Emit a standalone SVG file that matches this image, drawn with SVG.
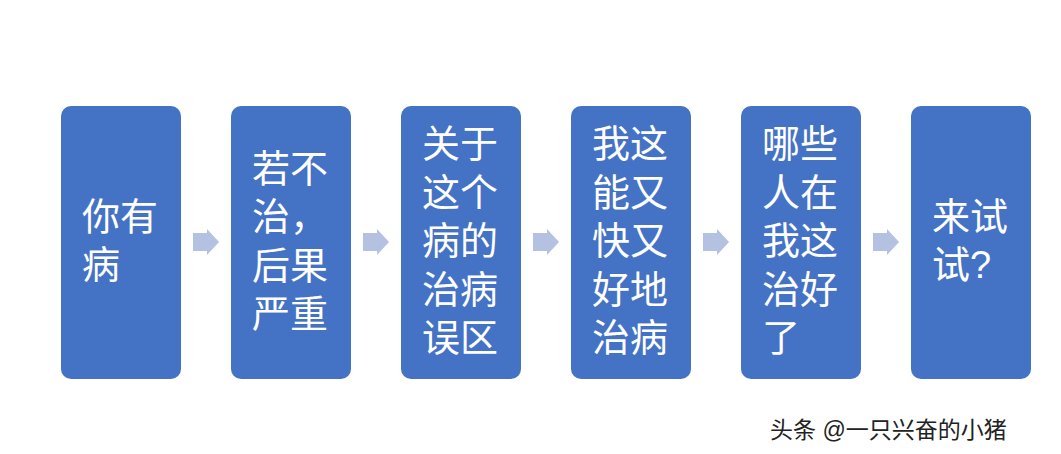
<svg xmlns="http://www.w3.org/2000/svg" width="1061" height="454" viewBox="0 0 1061 454">
<style>
.b{fill:#4472C4}
.t{fill:#fff;font-family:"Liberation Sans","Noto Sans CJK SC",sans-serif;font-size:38px}
.a{fill:#B4C1E0}
.w{fill:#222;font-family:"Liberation Sans","Noto Sans CJK SC",sans-serif;font-size:23px}
</style>
<defs><path id="arr" d="M0,-9H14V-13L26,0L14,13V9H0Z"/></defs>
<rect width="1061" height="454" fill="#fff"/>
<g id="connectors">
<use href="#arr" class="a" x="193" y="242"/>
<use href="#arr" class="a" x="363" y="242"/>
<use href="#arr" class="a" x="533" y="242"/>
<use href="#arr" class="a" x="703" y="242"/>
<use href="#arr" class="a" x="873" y="242"/>
</g>
<g id="n1"><rect class="b" x="61" y="106" width="120" height="273" rx="10"/><text class="t" x="82"><tspan x="82" y="230">你有</tspan><tspan x="82" y="278">病</tspan></text></g>
<g id="n2"><rect class="b" x="231" y="106" width="120" height="273" rx="10"/><text class="t"><tspan x="252" y="182">若不</tspan><tspan x="252" y="230">治，</tspan><tspan x="252" y="279">后果</tspan><tspan x="252" y="327">严重</tspan></text></g>
<g id="n3"><rect class="b" x="401" y="106" width="120" height="273" rx="10"/><text class="t"><tspan x="422" y="157">关于</tspan><tspan x="422" y="206">这个</tspan><tspan x="422" y="254">病的</tspan><tspan x="422" y="303">治病</tspan><tspan x="422" y="351">误区</tspan></text></g>
<g id="n4"><rect class="b" x="571" y="106" width="120" height="273" rx="10"/><text class="t"><tspan x="592" y="157">我这</tspan><tspan x="592" y="206">能又</tspan><tspan x="592" y="254">快又</tspan><tspan x="592" y="303">好地</tspan><tspan x="592" y="351">治病</tspan></text></g>
<g id="n5"><rect class="b" x="741" y="106" width="120" height="273" rx="10"/><text class="t"><tspan x="762" y="157">哪些</tspan><tspan x="762" y="206">人在</tspan><tspan x="762" y="254">我这</tspan><tspan x="762" y="303">治好</tspan><tspan x="762" y="351">了</tspan></text></g>
<g id="n6"><rect class="b" x="911" y="106" width="120" height="273" rx="10"/><text class="t"><tspan x="932" y="230">来试</tspan><tspan x="932" y="278">试?</tspan></text></g>
<text class="w" x="770" y="438">头条 @一只兴奋的小猪</text>
</svg>
